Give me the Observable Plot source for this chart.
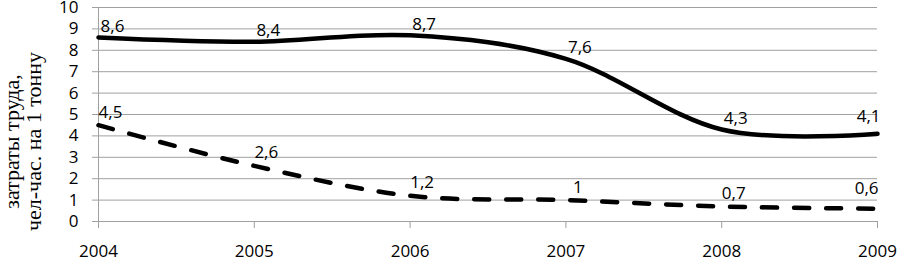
<!DOCTYPE html>
<html>
<head>
<meta charset="utf-8">
<script src="https://cdn.jsdelivr.net/npm/d3@7"></script>
<script src="https://cdn.jsdelivr.net/npm/@observablehq/plot@0.6"></script>
<style>
  html, body { margin: 0; padding: 0; background: #fff; }
  #chart svg { display: block; }
</style>
</head>
<body>
<div id="chart"></div>
<script>
const years = [2004, 2005, 2006, 2007, 2008, 2009];
const seriesSolid = [8.6, 8.4, 8.7, 7.6, 4.3, 4.1];
const seriesDashed = [4.5, 2.6, 1.2, 1, 0.7, 0.6];
const yTicks = [0, 1, 2, 3, 4, 5, 6, 7, 8, 9, 10];
const yTitle = "затраты труда,\nчел-час. на 1 тонну";

const solid = years.map((year, i) => ({year, value: seriesSolid[i]}));
const dashed = years.map((year, i) => ({year, value: seriesDashed[i]}));
const fmt = v => String(v).replace(".", ",");
const lastYear = years[years.length - 1];
const labelFont = "'Open Sans', sans-serif";

const chart = Plot.plot({
  width: 898,
  height: 261,
  marginLeft: 98,
  marginRight: 21,
  marginTop: 7,
  marginBottom: 40,
  style: {fontFamily: labelFont, fontSize: "17px", color: "#000", background: "#fff", overflow: "visible"},
  x: {type: "linear", domain: [2004, 2009], label: null},
  y: {domain: [0, 10], label: null},
  marks: [
    Plot.gridY(yTicks.filter(d => d > 0), {stroke: "#a0a0a0", strokeOpacity: 1, strokeWidth: 1}),
    Plot.axisY({ticks: yTicks, tickSize: 6, tickPadding: 14, stroke: "#a0a0a0", fill: "#000", label: null, fontSize: 17}),
    Plot.axisX({ticks: years, tickFormat: d => String(d), tickSize: 7, tickPadding: 16, stroke: "#a0a0a0", fill: "#000", label: null, fontSize: 17}),
    Plot.ruleY([0], {stroke: "#a0a0a0"}),
    Plot.ruleX([2004], {stroke: "#a0a0a0"}),
    Plot.line(solid, {x: "year", y: "value", curve: "cardinal", stroke: "#000", strokeWidth: 4.5}),
    Plot.line(dashed, {x: "year", y: "value", curve: "cardinal", stroke: "#000", strokeWidth: 4.5, strokeDasharray: "15,17"}),
    Plot.text(solid.filter(d => d.year !== lastYear), {x: "year", y: "value", text: d => fmt(d.value), dx: 14, dy: -11, fontSize: 17, fill: "#000"}),
    Plot.text(dashed.filter(d => d.year !== lastYear), {x: "year", y: "value", text: d => fmt(d.value), dx: 12, dy: -13, fontSize: 17, fill: "#000"}),
    Plot.text(solid.filter(d => d.year === lastYear), {x: "year", y: "value", text: d => fmt(d.value), dx: 3, dy: -17, textAnchor: "end", fontSize: 17, fill: "#000"}),
    Plot.text(dashed.filter(d => d.year === lastYear), {x: "year", y: "value", text: d => fmt(d.value), dx: 1, dy: -20, textAnchor: "end", fontSize: 17, fill: "#000"}),
    Plot.text([yTitle], {frameAnchor: "left", text: d => d, rotate: -90, textAnchor: "middle", lineAnchor: "middle", dx: -76, dy: 27, fontFamily: "'Liberation Serif', serif", fontSize: 22, lineHeight: 1.0, fill: "#000"})
  ]
});
document.getElementById("chart").appendChild(chart);
</script>
</body>
</html>
